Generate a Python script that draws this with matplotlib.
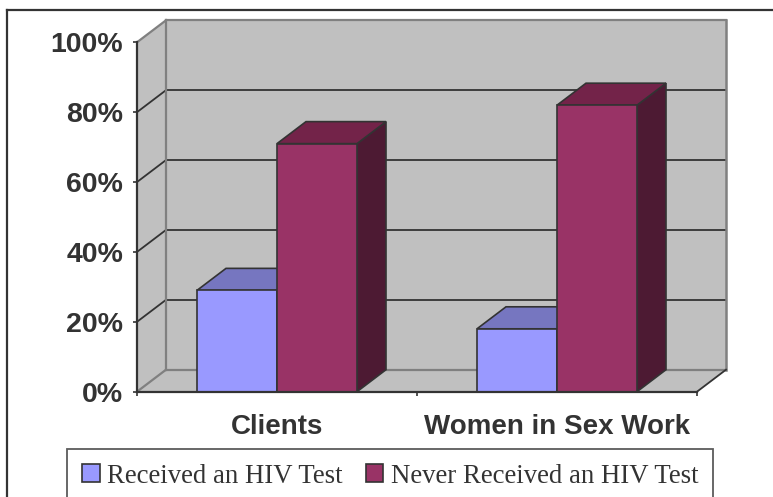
import matplotlib
matplotlib.use("Agg")
import matplotlib.pyplot as plt
from matplotlib.patches import Polygon, Rectangle, Patch
from matplotlib.lines import Line2D

# ---- data ----
categories = ["Clients", "Women in Sex Work"]
series_names = ["Received an HIV Test", "Never Received an HIV Test"]
received = [29, 18]
never = [71, 82]
ytick_vals = [0, 20, 40, 60, 80, 100]
ytick_labels = ["0%", "20%", "40%", "60%", "80%", "100%"]

# ---- style ----
front_colors = ["#9999FF", "#993366"]
top_colors = ["#7676C0", "#732349"]
side_colors = ["#5C5C99", "#4D1A33"]
wall = "#C0C0C0"
wall_edge = "#808080"
dark = "#333333"

W, H = 773, 497
fig = plt.figure(figsize=(W / 100, H / 100), dpi=100)
fig.patch.set_facecolor("white")

# axes geometry (pixels)
x_left, x_front_right, x_back_right = 137, 697, 726
y_zero, y_top = 391.7, 20.3
ax = fig.add_axes([x_left / W, (H - y_zero) / H,
                   (x_back_right - x_left) / W, (y_zero - y_top) / H])

ncat = len(categories)
px_per_x = (x_front_right - x_left) / ncat
px_per_y = (y_zero - 42.3) / 100.0
DX = 29 / px_per_x
DY = 22 / px_per_y
ax.set_xlim(0, ncat + DX)
ax.set_ylim(0, 100 + DY)
ax.set_facecolor("none")

# walls
ax.add_patch(Polygon([(DX, DY), (ncat + DX, DY), (ncat + DX, 100 + DY), (DX, 100 + DY)],
                     closed=True, fc=wall, ec="none", zorder=1))
ax.add_patch(Polygon([(0, 0), (0, 100), (DX, 100 + DY), (DX, DY)],
                     closed=True, fc=wall, ec="none", zorder=1))
ax.add_patch(Polygon([(0, 0), (ncat, 0), (ncat + DX, DY), (DX, DY)],
                     closed=True, fc=wall, ec="none", zorder=1))

# gridlines
for v in ytick_vals:
    c = wall_edge if v in (0, 100) else dark
    lw = 1.6 if v in (0, 100) else 1.3
    ax.plot([DX, ncat + DX], [v + DY, v + DY], color=c, lw=lw, zorder=2, clip_on=False)
    ax.plot([0, DX], [v, v + DY], color=c, lw=lw, zorder=2, clip_on=False)
# wall edges
ax.plot([DX, DX], [DY, 100 + DY], color=wall_edge, lw=1.6, zorder=2, clip_on=False)
ax.plot([ncat + DX, ncat + DX], [DY, 100 + DY], color=wall_edge, lw=1.8, zorder=2, clip_on=False)
ax.plot([ncat, ncat + DX], [0, DY], color=dark, lw=1.3, zorder=2, clip_on=False)

# bars
bw = 80 / px_per_x
gap = (1 - 2 * bw) / 2
values = [received, never]
for i in range(ncat):
    for j in range(2):
        v = values[j][i]
        x0 = i + gap + j * bw
        z = 3 + i * 2 + j
        # side face
        ax.add_patch(Polygon([(x0 + bw, 0), (x0 + bw + DX, DY), (x0 + bw + DX, v + DY), (x0 + bw, v)],
                             closed=True, fc=side_colors[j], ec=dark, lw=1.2, zorder=z))
        # top face
        ax.add_patch(Polygon([(x0, v), (x0 + bw, v), (x0 + bw + DX, v + DY), (x0 + DX, v + DY)],
                             closed=True, fc=top_colors[j], ec=dark, lw=1.2, zorder=z))
        # front face
        ax.add_patch(Rectangle((x0, 0), bw, v, fc=front_colors[j], ec=dark, lw=1.2, zorder=z))

# axes / spines
for s in ["top", "right"]:
    ax.spines[s].set_visible(False)
ax.spines["left"].set_bounds(0, 100)
ax.spines["bottom"].set_bounds(0, ncat)
for s in ["left", "bottom"]:
    ax.spines[s].set_color(dark)
    ax.spines[s].set_linewidth(1.6)
    ax.spines[s].set_zorder(10)

ax.set_yticks(ytick_vals)
ax.set_yticklabels(ytick_labels, fontfamily="Liberation Sans", fontweight="bold",
                   fontsize=20.5, color=dark)
ax.tick_params(axis="y", direction="out", length=3, width=1.2, color=dark, pad=7)

ax.set_xticks([i + 0.5 for i in range(ncat)])
ax.set_xticklabels(categories, fontfamily="Liberation Sans", fontweight="bold",
                   fontsize=20, color=dark)
ax.set_xticks(list(range(ncat + 1)), minor=True)
ax.tick_params(axis="x", which="major", length=0, pad=16)
ax.tick_params(axis="x", which="minor", direction="out", length=3, width=1.2, color=dark)

# outer frame
fig.add_artist(Line2D([7 / W, 1.01], [1 - 10 / H, 1 - 10 / H], color=dark, lw=1.6,
                      transform=fig.transFigure))
fig.add_artist(Line2D([7 / W, 7 / W], [1 - 10 / H, -0.01], color=dark, lw=1.6,
                      transform=fig.transFigure))

# legend
handles = [Patch(fc=front_colors[j], ec=dark, lw=1.2) for j in range(2)]
leg = fig.legend(handles, series_names, loc="upper left",
                 bbox_to_anchor=(67.3 / W, 1 - 449 / H), ncol=2,
                 prop={"family": "Liberation Serif", "size": 19.3},
                 frameon=True, fancybox=False, borderpad=0.55,
                 handlelength=0.66, handleheight=0.66, handletextpad=0.28,
                 columnspacing=0.85, borderaxespad=0)
leg.get_frame().set_edgecolor(dark)
leg.get_frame().set_linewidth(1.3)
for t in leg.get_texts():
    t.set_color(dark)

fig.savefig("out.png", dpi=100)
